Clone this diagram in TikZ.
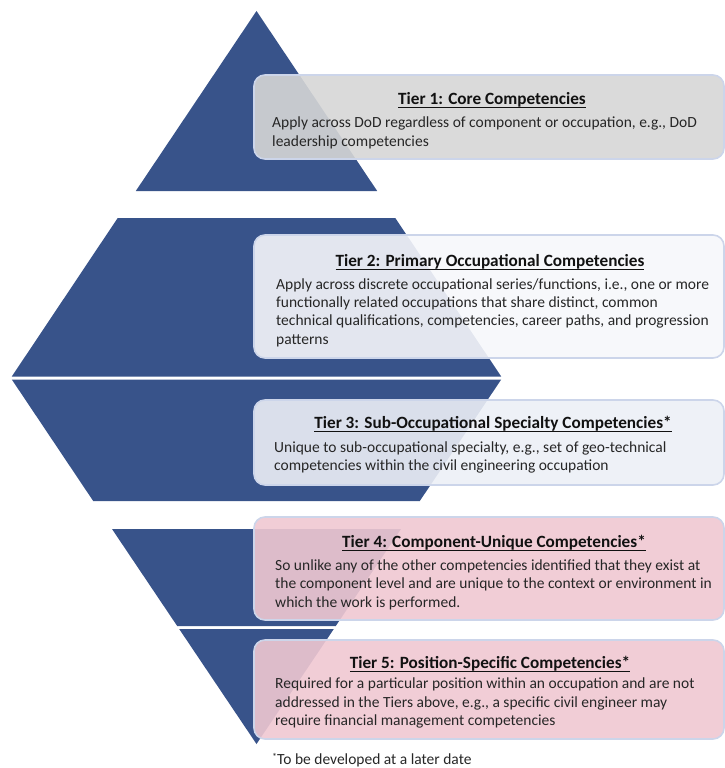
\documentclass[tikz,border=0pt]{standalone}
\usepackage{fontspec}
\setmainfont{Carlito}
\newcommand\mytul[1]{\setbox0\hbox{#1}\rlap{\vrule height -2.8pt depth 4.0pt width \wd0}\box0}
\definecolor{tierblue}{HTML}{38538A}
\definecolor{boxedge}{HTML}{CCD5EA}
\definecolor{graybox}{HTML}{D6D6D6}
\definecolor{whitebox}{HTML}{F6F7FB}
\definecolor{lavbox}{HTML}{ECEFF6}
\definecolor{pinkbox}{HTML}{F0C8D2}
\definecolor{bodytext}{HTML}{262626}
\definecolor{titletext}{HTML}{111111}
\begin{document}
\begin{tikzpicture}[x=1pt,y=-1pt,
  slice/.style={fill=tierblue},
  tierbox/.style={draw=boxedge, line width=1.6pt, rounded corners=11pt,
    minimum width=470pt, inner sep=0pt, fill opacity=0.9},
  tiertitle/.style={anchor=base, inner sep=0pt, text=titletext,
    font=\fontsize{17.2}{20}\selectfont\bfseries},
  tierbody/.style={anchor=base west, inner sep=0pt, align=left, text=bodytext,
    font=\fontsize{15.5}{18.4}\selectfont}]
\useasboundingbox (0,0) rectangle (725,768);

% pyramid slices
\fill[slice] (256.5,11) -- (377.2,191) -- (135.8,191) -- cycle;
\fill[slice] (117.7,218) -- (395.3,218) -- (501.2,376.5) -- (11.8,376.5) -- cycle;
\fill[slice] (11.8,379.5) -- (501.2,379.5) -- (419.8,501) -- (93.2,501) -- cycle;
\fill[slice] (112,529) -- (401,529) -- (335.8,626) -- (177.2,626) -- cycle;
\fill[slice] (179.2,629) -- (333.8,629) -- (256.5,744) -- cycle;

% boxes
\node[tierbox, fill=graybox,  minimum height=84pt]  (b1) at (489,117) {};
\node[tierbox, fill=whitebox, minimum height=123pt] (b2) at (489,296.5) {};
\node[tierbox, fill=lavbox,   minimum height=85pt]  (b3) at (489,442.5) {};
\node[tierbox, fill=pinkbox,  minimum height=103pt] (b4) at (489,568.5) {};
\node[tierbox, fill=pinkbox,  minimum height=99pt]  (b5) at (489,689.5) {};

% tier 1 (body anchors sit on the last line's baseline)
\node[tiertitle] (t1) at (492,104) {\mytul{Tier 1: Core Competencies}};
\node[tierbody] (d1) at (272,146) {Apply across DoD regardless of component or occupation, e.g., DoD\\leadership competencies};

% tier 2
\node[tiertitle] (t2) at (490,266) {\mytul{Tier 2: Primary Occupational Competencies}};
\node[tierbody] (d2) at (276,344.2) {Apply across discrete occupational series/functions, i.e., one or more\\functionally related occupations that share distinct, common\\technical qualifications, competencies, career paths, and progression\\patterns};

% tier 3
\node[tiertitle] (t3) at (493,428) {\mytul{Tier 3: Sub-Occupational Specialty Competencies*}};
\node[tierbody] (d3) at (274,470.8) {Unique to sub-occupational specialty, e.g., set of geo-technical\\competencies within the civil engineering occupation};

% tier 4
\node[tiertitle] (t4) at (494,547) {\mytul{Tier 4: Component-Unique Competencies*}};
\node[tierbody] (d4) at (275,607) {So unlike any of the other competencies identified that they exist at\\the component level and are unique to the context or environment in\\which the work is performed.};

% tier 5
\node[tiertitle] (t5) at (490,668) {\mytul{Tier 5: Position-Specific Competencies*}};
\node[tierbody] (d5) at (275,725.5) {Required for a particular position within an occupation and are not\\addressed in the Tiers above, e.g., a specific civil engineer may\\require financial management competencies};

% footnote
\node[tierbody] (fn) at (272,764) {\raisebox{3.5pt}{\fontsize{10}{10}\selectfont *}To be developed at a later date};
\end{tikzpicture}
\end{document}
